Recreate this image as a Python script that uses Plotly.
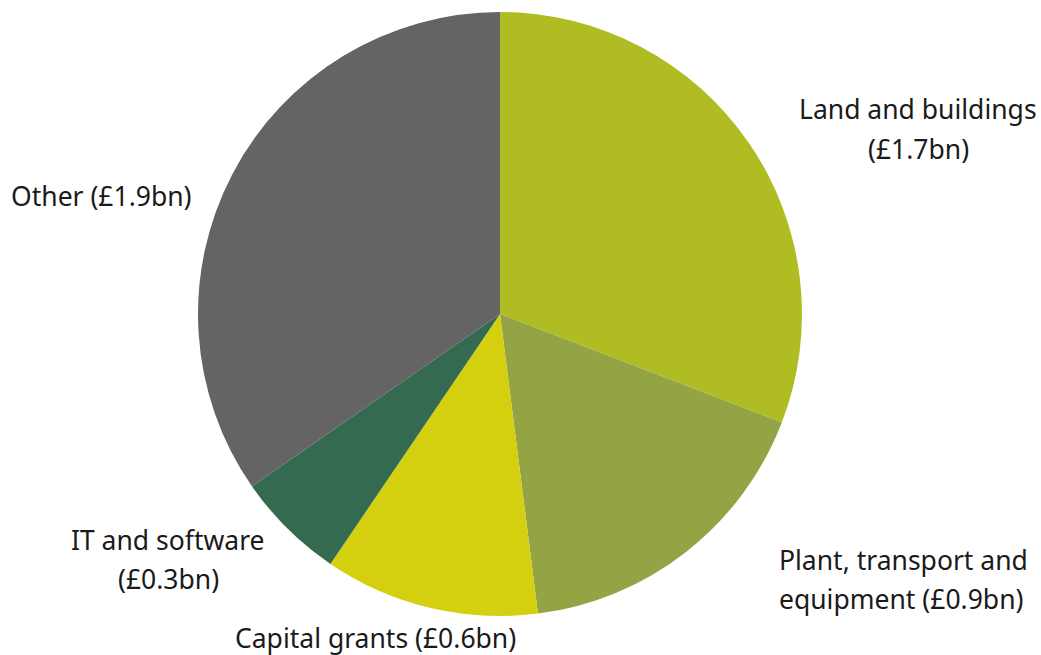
import plotly.graph_objects as go

categories = ["Land and buildings", "Plant, transport and equipment", "Capital grants", "IT and software", "Other"]
values = [1.69, 0.94, 0.63, 0.32, 1.90]
colors = ["#AFBD22", "#93A445", "#D4CF0F", "#336A50", "#646464"]
label_lines = [
    ["Land and buildings", "(£1.7bn)"],
    ["Plant, transport and", "equipment (£0.9bn)"],
    ["Capital grants (£0.6bn)"],
    ["IT and software", "(£0.3bn)"],
    ["Other (£1.9bn)"],
]

W, H = 1041, 655
cx, cy, r = 500, 314, 302

# label anchor positions in pixels: (x, y of each line center), anchor side
label_pos = [
    (918, [109, 149], "center"),
    (777, [560, 599], "left"),
    (375, [638], "center"),
    (168, [540, 579], "center"),
    (101.5, [196], "center"),
]

fig = go.Figure(go.Pie(
    labels=categories, values=values, sort=False, direction="clockwise", rotation=0,
    marker=dict(colors=colors, line=dict(width=0)), textinfo="none", hoverinfo="label+value",
    domain=dict(x=[(cx - r) / W, (cx + r) / W], y=[(H - cy - r) / H, (H - cy + r) / H]),
    showlegend=False,
))

ann = []
for lines, (x, ys, al) in zip(label_lines, label_pos):
    for ln, yy in zip(lines, ys):
        ann.append(dict(text=ln, x=x / W, y=1 - yy / H,
                        xref="paper", yref="paper", xanchor=al, yanchor="middle",
                        showarrow=False))

fig.update_layout(
    width=W, height=H, margin=dict(l=0, r=0, t=0, b=0),
    paper_bgcolor="white", plot_bgcolor="white",
    font=dict(family="Noto Sans", size=26.5, color="#1a1a1a"),
    annotations=ann,
)
fig.write_html(
    "out.html",
    config={"displayModeBar": False},
    post_script="document.body.style.margin='0';document.body.style.overflow='hidden';",
)
